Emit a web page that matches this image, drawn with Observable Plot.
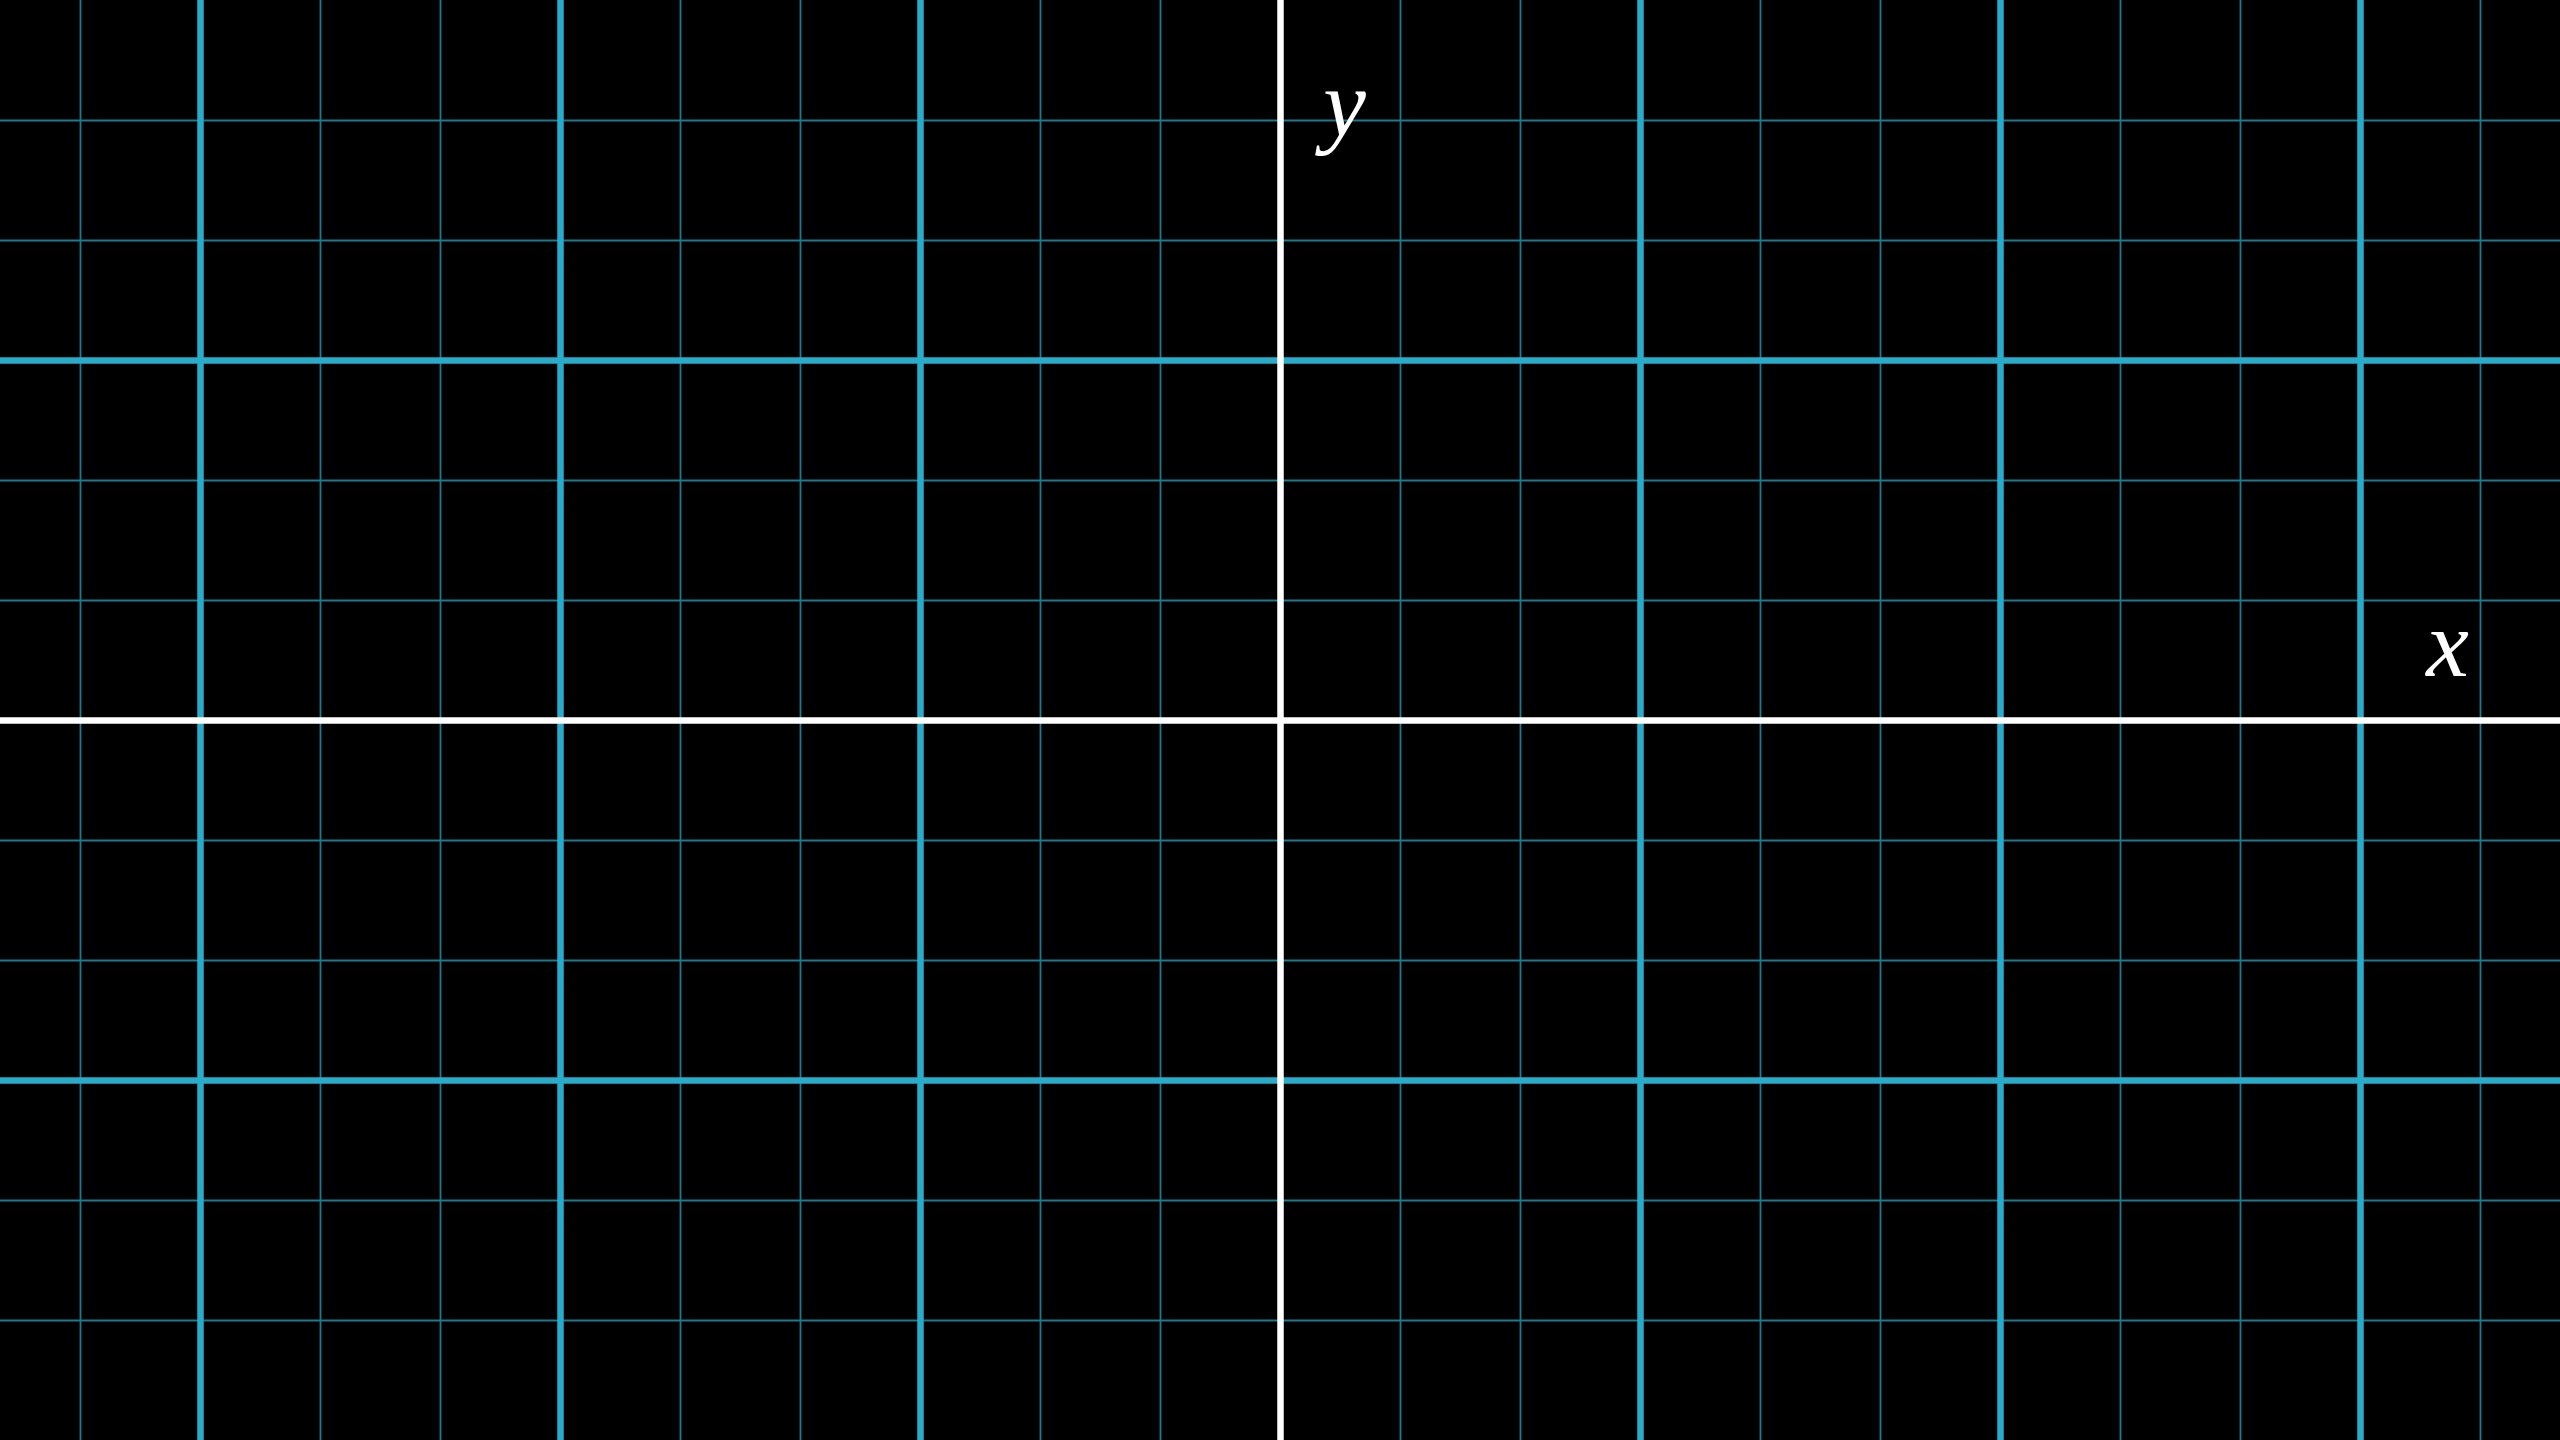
<!DOCTYPE html>
<html>
<head>
<meta charset="utf-8">
<script src="https://cdn.jsdelivr.net/npm/d3@7"></script>
<script src="https://cdn.jsdelivr.net/npm/@observablehq/plot@0.6"></script>
<style>
  html, body { margin: 0; padding: 0; background: #000; overflow: hidden; }
  #chart svg { display: block; }
</style>
</head>
<body>
<div id="chart"></div>
<script>
// Grid positions in plane units (1 unit = one major cell)
const majorX = [-3, -2, -1, 1, 2, 3];
const majorY = [-1, 1];
const minorX = [-10/3, -8/3, -7/3, -5/3, -4/3, -2/3, -1/3, 1/3, 2/3, 4/3, 5/3, 7/3, 8/3, 10/3];
const minorY = [-5/3, -4/3, -2/3, -1/3, 1/3, 2/3, 4/3, 5/3];
const axisX = [0];
const axisY = [0];
const labelText = ["x", "y"];
const labelX = [3.242, 0.178];
const labelY = [0.125, 1.625];

const labels = labelText.map((t, i) => ({t, x: labelX[i], y: labelY[i]}));

const chart = Plot.plot({
  width: 2560,
  height: 1440,
  margin: 0,
  x: {domain: [-32/9, 32/9], axis: null},
  y: {domain: [-2, 2], axis: null},
  style: {background: "#000"},
  marks: [
    Plot.ruleX(minorX, {x: d => d, stroke: "#1D7B8F", strokeWidth: 1.8}),
    Plot.ruleY(minorY, {y: d => d, stroke: "#1D7B8F", strokeWidth: 1.8}),
    Plot.ruleX(majorX, {x: d => d, stroke: "#29ABCA", strokeWidth: 6.5}),
    Plot.ruleY(majorY, {y: d => d, stroke: "#29ABCA", strokeWidth: 6.5}),
    Plot.ruleX(axisX, {x: d => d, stroke: "#FFFFFF", strokeWidth: 6.5}),
    Plot.ruleY(axisY, {y: d => d, stroke: "#FFFFFF", strokeWidth: 6.5}),
    Plot.text(labels, {
      x: "x", y: "y", text: "t",
      fill: "#FFFFFF",
      fontSize: 96,
      fontFamily: "'Liberation Serif', 'DejaVu Serif', serif",
      fontStyle: "italic",
      textAnchor: "middle",
      lineAnchor: "bottom"
    })
  ]
});
document.getElementById("chart").append(chart);
</script>
</body>
</html>
